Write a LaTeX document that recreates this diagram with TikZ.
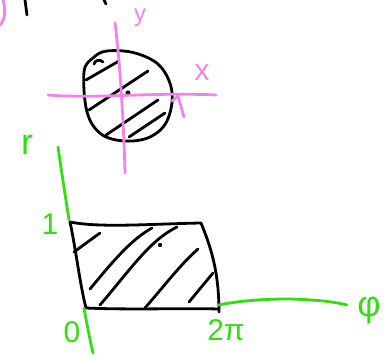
\documentclass[tikz,border=0pt]{standalone}
\usepackage{fontspec}
\setmainfont{Liberation Sans}
\definecolor{pinkink}{HTML}{F283EE}
\definecolor{greenink}{HTML}{33DD11}
\tikzset{
  ink/.style={line width=2.8pt, line cap=round, line join=round},
  blk/.style={ink, black},
  pnk/.style={ink, pinkink},
  grn/.style={ink, greenink},
  lbl/.style={inner sep=0pt, font=\fontsize{30}{30}\selectfont},
  biglbl/.style={inner sep=0pt, font=\fontsize{36}{36}\selectfont},
}
\begin{document}
\begin{tikzpicture}[x=1pt,y=-1pt]
\useasboundingbox (0,0) rectangle (389,355);
% top edge fragments
\draw[pnk] (3,0) .. controls (6,10) and (5,20) .. (0,25);
\draw[blk] (25,0) -- (27,15);
\draw[blk] (104,0) -- (106,4);
% circle (disk)
\draw[blk] plot[smooth cycle, tension=0.6] coordinates {(107,51) (135,53) (160,66) (172,92) (167,121) (150,137) (125,141) (101,134) (87,112) (84,72) (93,58)};
% hatching in the disk
\draw[blk] (86,80) -- (119,61);
\draw[blk] (94,64) .. controls (95,60) and (100,59) .. (103,62);
\draw[blk] (89,110) -- (148,71);
\draw[blk] (128,93) circle (1.5pt);
\draw[blk] (106,135) -- (158,100);
\draw[blk] (129,137) -- (165,113);
% pink axes
\draw[pnk] (115,23) .. controls (120,60) and (124,130) .. (125,173);
\draw[pnk] (48,95) .. controls (100,99) and (150,92) .. (216,95);
\draw[pnk] (172,101) -- (178,96) -- (184,117);
\node[lbl, text=pinkink, font=\fontsize{24}{24}\selectfont] (ylab) at (140,18) {y};
\node[lbl, text=pinkink] (xlab) at (202,73) {x};
% rectangle
\draw[blk] (70,222) .. controls (100,228) and (150,224) .. (201,223)
  .. controls (210,245) and (219,270) .. (219,312);
\draw[blk] (70,222) .. controls (76,250) and (80,285) .. (86,308)
  .. controls (130,310) and (180,308) .. (219,309);
% hatching in rectangle
\draw[blk] (74,252) -- (100,233);
\draw[blk] (90,289) .. controls (110,265) and (130,240) .. (152,228);
\draw[blk] (100,305) .. controls (130,270) and (150,240) .. (177,227);
\draw[blk] (145,308) .. controls (165,285) and (180,265) .. (198,249);
\draw[blk] (189,302) -- (213,273);
\draw[blk] (160,245) circle (1pt);
% green axes
\draw[grn] (58,147) .. controls (62,175) and (66,200) .. (69,220);
\draw[grn] (84,308) .. controls (87,325) and (90,340) .. (93,353);
\draw[grn] (218,305) .. controls (240,301) and (260,299) .. (290,299)
  .. controls (320,300) and (335,302) .. (347,305);
% green labels
\node[biglbl, text=greenink] (rlab) at (27,145) {r};
\node[lbl, text=greenink] (onelab) at (50,224) {1};
\node[lbl, text=greenink] (zerolab) at (72,332) {0};
\node[lbl, text=greenink] (twopilab) at (226,330) {2π};
\node[biglbl, text=greenink] (philab) at (369,311) {φ};
\end{tikzpicture}
\end{document}
